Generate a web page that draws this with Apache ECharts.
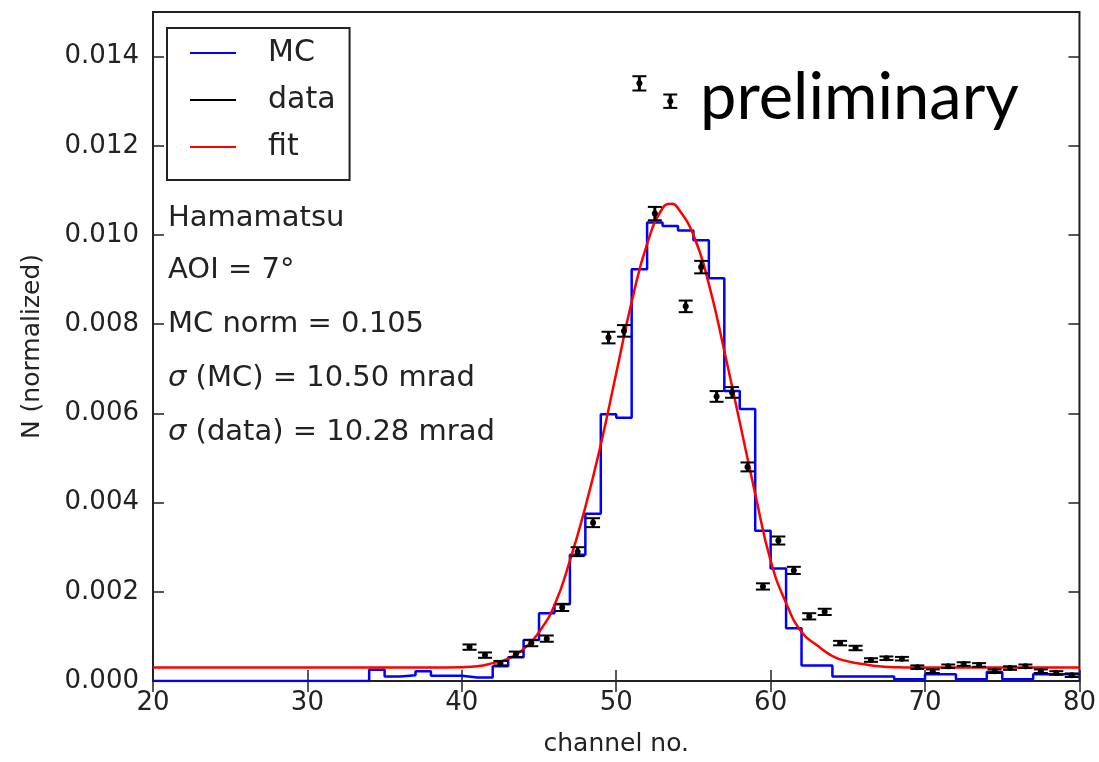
<!DOCTYPE html>
<html><head><meta charset="utf-8">
<script src="https://cdn.jsdelivr.net/npm/echarts@6/dist/echarts.min.js"></script>
<style>html,body{margin:0;padding:0;background:#fff}#c{width:1099px;height:762px}</style>
</head><body><div id="c"></div>
<script>
// MC histogram: bin edges and per-bin values (bin [edge_i, edge_i+1])
const mcEdges = [20,21,22,23,24,25,26,27,28,29,30,31,32,33,34,35,36,37,38,39,40,41,42,43,44,45,46,47,48,49,50,51,52,53,54,55,56,57,58,59,60,61,62,63,64,65,66,67,68,69,70,71,72,73,74,75,76,77,78,79,80];
const mcValues = [0,0,0,0,0,0,0,0,0,0,0,0,0,0,
  0.00025,0.0001,0.00013,0.00022,0.00012,0.00012,0.00008,0.00008,0.00033,0.00053,
  0.00092,0.00152,0.00172,0.00283,0.00375,0.00598,0.0059,0.00923,0.01028,0.0102,
  0.0101,0.00988,0.00903,0.0065,0.0061,0.00337,0.00252,0.00118,0.00035,0.00035,
  0.0001,0.0001,0.0001,0.0001,0.00004,0.00004,0.00015,0.00015,0.00004,0.00004,
  0.0002,0.00004,0.00004,0.00015,0.00015,0.00015];

// data points
const dataX = [40.5,41.5,42.5,43.5,44.5,45.5,46.5,47.5,48.5,49.5,50.5,51.5,52.5,53.5,54.5,55.5,56.5,57.5,58.5,59.5,60.5,61.5,62.5,63.5,64.5,65.5,66.5,67.5,68.5,69.5,70.5,71.5,72.5,73.5,74.5,75.5,76.5,77.5,78.5,79.5];
const dataY = [0.00076,0.00058,0.0004,0.0006,0.00085,0.00095,0.00165,0.0029,0.00355,0.0077,0.00785,0.0134,0.01048,0.013,0.0084,0.00928,0.00638,0.00647,0.0048,0.00212,0.00315,0.00248,0.00145,0.00155,0.00085,0.00074,0.00047,0.00051,0.0005,0.00031,0.00022,0.00033,0.00038,0.00036,0.00022,0.00029,0.00033,0.00022,0.00018,0.00013];
const dataErr = [0.00006,0.00006,0.00005,0.00006,0.00007,0.00007,0.00008,0.0001,0.0001,0.00013,0.00013,0.00016,0.00015,0.00015,0.00013,0.00014,0.00012,0.00012,0.0001,0.00007,0.00009,0.00008,0.00007,0.00007,0.00005,0.00005,0.00004,0.00004,0.00004,0.00004,0.00004,0.00004,0.00004,0.00004,0.00004,0.00004,0.00004,0.00004,0.00004,0.00004];

// fit curve
const fitX = [20,30,38,40,41,42,43,44,45,46,47,48,49,50,51,52,53,53.6,54,55,56,57,58,59,60,61,62,63,64,65,66,67,68,69,70,75,80];
const fitY = [0.0003,0.0003,0.0003,0.00031,0.00033,0.0004,0.0005,0.00072,0.0011,0.0017,0.0027,0.0039,0.0053,0.0069,0.0085,0.0098,0.0106,0.0107,0.0106,0.01,0.0089,0.0074,0.0058,0.0042,0.0027,0.00175,0.0011,0.0008,0.00056,0.00044,0.00038,0.00033,0.00031,0.0003,0.0003,0.0003,0.0003];

const xTicks = {min:20, max:80, interval:10};
const yTicks = {min:0, max:0.015, interval:0.002};

const FONT = 'DejaVu Sans';
const TXT = '#222';

const mcSeriesData = mcEdges.map((e,i)=>[e, i < mcValues.length ? mcValues[i] : mcValues[mcValues.length-1]]);
const dataSeriesData = dataX.map((x,i)=>[x, dataY[i], dataErr[i]]);
const fitSeriesData = fitX.map((x,i)=>[x, fitY[i]]);

const chart = echarts.init(document.getElementById('c'));
const tick = {show:true, inside:true, length:11, lineStyle:{color:'#222', width:1.5}};
const ANN = 29;
chart.setOption({
  animation:false,
  backgroundColor:'#fff',
  grid:{left:153, right:17, top:12, bottom:79, show:true, borderColor:'#222', borderWidth:2, backgroundColor:'transparent'},
  xAxis:[
    {type:'value', min:xTicks.min, max:xTicks.max, interval:xTicks.interval, position:'bottom',
     axisLine:{show:false}, axisTick:tick, splitLine:{show:false},
     axisLabel:{fontSize:26, color:TXT, fontFamily:FONT, margin:9},
     name:'channel no.', nameLocation:'middle', nameGap:51,
     nameTextStyle:{fontSize:25, color:TXT, fontFamily:FONT}},
    {type:'value', min:xTicks.min, max:xTicks.max, interval:xTicks.interval, position:'top',
     axisLine:{show:false}, axisTick:tick, splitLine:{show:false}, axisLabel:{show:false}}
  ],
  yAxis:[
    {type:'value', min:yTicks.min, max:yTicks.max, interval:yTicks.interval, position:'left',
     axisLine:{show:false}, axisTick:tick, splitLine:{show:false},
     axisLabel:{fontSize:26, color:TXT, fontFamily:FONT, margin:14,
       formatter:v=> v > 0.0145 ? '' : v.toFixed(3)},
     name:'N (normalized)', nameLocation:'middle', nameGap:108, nameRotate:90,
     nameTextStyle:{fontSize:25, color:TXT, fontFamily:FONT}},
    {type:'value', min:yTicks.min, max:yTicks.max, interval:yTicks.interval, position:'right',
     axisLine:{show:false}, axisTick:tick, splitLine:{show:false}, axisLabel:{show:false}}
  ],
  legend:{
    orient:'vertical', left:167, top:28,
    borderColor:'#222', borderWidth:2, padding:[10,14,18,23],
    itemWidth:46, itemHeight:2, itemGap:17,
    textStyle:{fontSize:30, color:TXT, fontFamily:FONT, padding:[0,0,0,27], lineHeight:30},
    data:[
      {name:'MC', icon:'rect', itemStyle:{color:'#0000ff'}},
      {name:'data', icon:'rect', itemStyle:{color:'#000'}},
      {name:'fit', icon:'rect', itemStyle:{color:'#ff0000'}}
    ]
  },
  graphic:[
    {type:'text', x:168, y:218, style:{text:'Hamamatsu', fontSize:ANN, fontFamily:FONT, fill:TXT, verticalAlign:'middle'}},
    {type:'text', x:168, y:270, style:{text:'AOI = 7°', fontSize:ANN, fontFamily:FONT, fill:TXT, verticalAlign:'middle'}},
    {type:'text', x:168, y:324, style:{text:'MC norm = 0.105', fontSize:ANN, fontFamily:FONT, fill:TXT, verticalAlign:'middle'}},
    {type:'text', x:168, y:378, style:{text:'{i|σ} (MC) = 10.50 mrad', fontSize:ANN, fontFamily:FONT, fill:TXT, verticalAlign:'middle',
      rich:{i:{fontStyle:'italic', fontSize:ANN, fontFamily:FONT, fill:TXT}}}},
    {type:'text', x:168, y:432, style:{text:'{i|σ} (data) = 10.28 mrad', fontSize:ANN, fontFamily:FONT, fill:TXT, verticalAlign:'middle',
      rich:{i:{fontStyle:'italic', fontSize:ANN, fontFamily:FONT, fill:TXT}}}},
    {type:'text', x:700, y:98, style:{text:'preliminary', fontSize:65, fontFamily:'Lato', fill:'#000', verticalAlign:'middle'}}
  ],
  series:[
    {name:'MC', type:'line', step:'end', data:mcSeriesData, showSymbol:false, symbol:'none',
     lineStyle:{color:'#0000ff', width:2.5}, itemStyle:{color:'#0000ff'}, z:2},
    {name:'fit', type:'line', data:fitSeriesData, smooth:0.5, showSymbol:false, symbol:'none',
     lineStyle:{color:'#ff0000', width:2.5}, itemStyle:{color:'#ff0000'}, z:3},
    {name:'data', type:'custom', data:dataSeriesData, encode:{x:0, y:1}, z:4,
     itemStyle:{color:'#000'},
     renderItem:function(params, api){
       const x = api.value(0), y = api.value(1), e = api.value(2);
       const c = api.coord([x, y]);
       const t = api.coord([x, y + e]);
       const b = api.coord([x, y - e]);
       const w = 7;
       return {type:'group', children:[
         {type:'line', shape:{x1:c[0], y1:t[1], x2:c[0], y2:b[1]}, style:{stroke:'#000', lineWidth:3}},
         {type:'line', shape:{x1:c[0]-w, y1:t[1], x2:c[0]+w, y2:t[1]}, style:{stroke:'#000', lineWidth:2}},
         {type:'line', shape:{x1:c[0]-w, y1:b[1], x2:c[0]+w, y2:b[1]}, style:{stroke:'#000', lineWidth:2}},
         {type:'circle', shape:{cx:c[0], cy:c[1], r:3}, style:{fill:'#000'}}
       ]};
     }}
  ]
});
</script></body></html>
